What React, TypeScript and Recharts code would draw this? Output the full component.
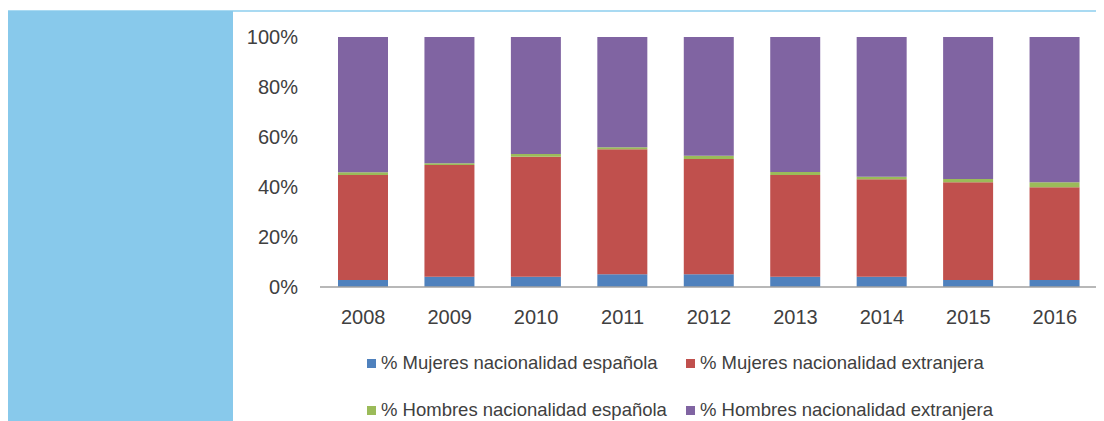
import React from 'react';
import { BarChart, Bar, XAxis, YAxis, Legend } from 'recharts';

const years = ['2008', '2009', '2010', '2011', '2012', '2013', '2014', '2015', '2016'];
const mujeresEsp = [2.8, 4.1, 4.1, 5.1, 5.1, 4.1, 4.1, 2.8, 2.8];
const mujeresExt = [42.0, 44.7, 48.0, 50.0, 46.1, 40.7, 39.0, 39.1, 37.1];
const hombresEsp = [1.1, 0.7, 1.1, 0.8, 1.3, 1.2, 1.0, 1.3, 2.0];
const hombresExt = [54.1, 50.5, 46.8, 44.1, 47.5, 54.0, 55.9, 56.8, 58.1];
const yTicks = [0, 20, 40, 60, 80, 100];

const series = [
  { key: 'mujeresEsp', name: '% Mujeres nacionalidad española', color: '#4F81BD' },
  { key: 'mujeresExt', name: '% Mujeres nacionalidad extranjera', color: '#C0504D' },
  { key: 'hombresEsp', name: '% Hombres nacionalidad española', color: '#9BBB59' },
  { key: 'hombresExt', name: '% Hombres nacionalidad extranjera', color: '#8064A2' },
];

const data = years.map((year, i) => ({
  year,
  mujeresEsp: mujeresEsp[i],
  mujeresExt: mujeresExt[i],
  hombresEsp: hombresEsp[i],
  hombresExt: hombresExt[i],
}));

const FONT = '"Liberation Sans", Arial, sans-serif';

// two rows x two columns, like the original spreadsheet legend
const GridLegend = () => (
  <div style={{ position: 'relative', width: 1096, height: 90, fontFamily: FONT, fontSize: 18.5, color: '#404040' }}>
    {series.map((s, i) => (
      <div
        key={s.key}
        style={{
          position: 'absolute',
          left: i % 2 === 0 ? 359 : 678,
          top: i < 2 ? 26 : 73,
          height: 20,
          display: 'flex',
          alignItems: 'center',
          whiteSpace: 'nowrap',
          lineHeight: '20px',
        }}
      >
        <span style={{ display: 'inline-block', width: 9, height: 9, background: s.color, marginRight: 5 }} />
        {s.name}
      </div>
    ))}
  </div>
);

const App: React.FC = () => (
  <div style={{ position: 'relative', width: 1096, height: 413, background: '#fff' }}>
    <div style={{ position: 'absolute', left: 0, right: 0, top: 2, height: 2, background: '#A9DAF2' }} />
    <div style={{ position: 'absolute', left: 0, top: 3, width: 225, bottom: 0, background: '#88C9EB' }} />
    <div style={{ position: 'absolute', left: 0, top: 0 }}>
      <BarChart width={1096} height={413} data={data} margin={{ top: 29, right: 6, bottom: 4, left: 0 }}>
        <XAxis
          dataKey="year"
          height={40}
          tickLine={false}
          tickSize={0}
          tickMargin={23}
          axisLine={{ stroke: '#A0A0A0', strokeWidth: 1.5 }}
          tick={{ fill: '#404040', fontSize: 20, fontFamily: FONT }}
        />
        <YAxis
          width={312}
          domain={[0, 100]}
          ticks={yTicks}
          tickFormatter={(v: number) => `${v}%`}
          axisLine={false}
          tickLine={false}
          tickSize={0}
          tickMargin={22}
          tick={{ fill: '#404040', fontSize: 20, fontFamily: FONT }}
        />
        <Legend verticalAlign="bottom" content={<GridLegend />} wrapperStyle={{ left: 0, width: 1096 }} />
        {series.map((s) => (
          <Bar key={s.key} dataKey={s.key} name={s.name} stackId="a" fill={s.color} barSize={50} isAnimationActive={false} />
        ))}
      </BarChart>
    </div>
  </div>
);

export default App;
